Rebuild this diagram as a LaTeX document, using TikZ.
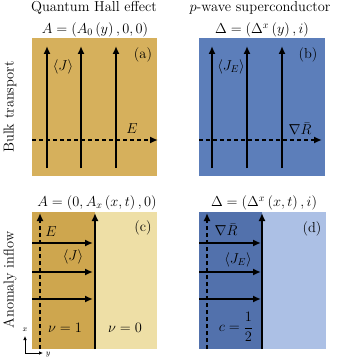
\documentclass[tikz,border=0pt]{standalone}
\usepackage{amsmath}
\usetikzlibrary{arrows.meta}
\definecolor{goldA}{RGB}{214,176,92}
\definecolor{goldD}{RGB}{206,166,78}
\definecolor{goldL}{RGB}{238,223,166}
\definecolor{blueB}{RGB}{92,126,186}
\definecolor{blueD}{RGB}{82,113,172}
\definecolor{blueL}{RGB}{172,192,229}
\tikzset{
  flow/.style={line width=1.6pt,-{Latex[length=8pt,width=7pt]}},
  field/.style={flow,dash pattern=on 4pt off 3pt},
  lbl/.style={inner sep=0pt,font=\Large},
  axisarrow/.style={line width=0.7pt,-{Latex[length=4pt,width=3.5pt]}}
}
\begin{document}
\begin{tikzpicture}[x=1pt,y=-1pt]
\useasboundingbox (0,0) rectangle (337,361);
% panels
\fill[goldA] (32,38) rectangle (157,176);
\fill[blueB] (199,38) rectangle (325,176);
\fill[goldD] (32,212) rectangle (95,349);
\fill[goldL] (95,212) rectangle (157,349);
\fill[blueD] (199,212) rectangle (262,349);
\fill[blueL] (262,212) rectangle (326,349);
% titles
\node[lbl] (t1) at (94,8) {Quantum Hall effect};
\node[lbl] (t2) at (260,8) {$p$-wave superconductor};
\node[lbl] (e1) at (95,30) {$A=\left(A_0\left(y\right),0,0\right)$};
\node[lbl] (e2) at (262,30) {$\Delta=\left(\Delta^x\left(y\right),i\right)$};
\node[lbl] (e3) at (97,203) {$A=\left(0,A_x\left(x,t\right),0\right)$};
\node[lbl] (e4) at (264,203) {$\Delta=\left(\Delta^x\left(x,t\right),i\right)$};
\node[lbl,rotate=90] (s1) at (10,107) {Bulk transport};
\node[lbl,rotate=90] (s2) at (10,280) {Anomaly inflow};
% panel (a)
\foreach \x [count=\i] in {47,81,116}{
  \coordinate (a\i b) at (\x,168);
  \coordinate (a\i t) at (\x,46);
  \draw[flow] (a\i b) -- (a\i t);
}
\coordinate (aEl) at (32,140); \coordinate (aEr) at (158,140);
\draw[field] (aEl) -- (aEr);
\node[lbl] (aJ) at (63,67) {$\langle J\rangle$};
\node[lbl] (alab) at (143,55) {(a)};
\node[lbl] (aE) at (132,129) {$E$};
% panel (b)
\foreach \x [count=\i] in {212,247,282}{
  \coordinate (b\i b) at (\x,168);
  \coordinate (b\i t) at (\x,46);
  \draw[flow] (b\i b) -- (b\i t);
}
\coordinate (bEl) at (199,140); \coordinate (bEr) at (322,140);
\draw[field] (bEl) -- (bEr);
\node[lbl] (bJ) at (231,67) {$\langle J_E\rangle$};
\node[lbl] (blab) at (308,55) {(b)};
\node[lbl] (bR) at (300,129) {$\nabla\bar{R}$};
% panel (c)
\coordinate (cVb) at (95,349); \coordinate (cVt) at (95,213);
\draw[flow] (cVb) -- (cVt);
\coordinate (cDb) at (40,349); \coordinate (cDt) at (40,213);
\draw[field] (cDb) -- (cDt);
\foreach \y [count=\i] in {243,272,299}{
  \coordinate (c\i l) at (32,\y);
  \coordinate (c\i r) at (93,\y);
  \draw[flow] (c\i l) -- (c\i r);
}
\node[lbl] (cE) at (51,232) {$E$};
\node[lbl] (cJ) at (73,257) {$\langle J\rangle$};
\node[lbl] (clab) at (143,228) {(c)};
\node[lbl] (cn1) at (65,328) {$\nu=1$};
\node[lbl] (cn0) at (125,328) {$\nu=0$};
% panel (d)
\coordinate (dVb) at (262,349); \coordinate (dVt) at (262,213);
\draw[flow] (dVb) -- (dVt);
\coordinate (dDb) at (207,349); \coordinate (dDt) at (207,213);
\draw[field] (dDb) -- (dDt);
\foreach \y [count=\i] in {243,272,299}{
  \coordinate (d\i l) at (199,\y);
  \coordinate (d\i r) at (261,\y);
  \draw[flow] (d\i l) -- (d\i r);
}
\node[lbl] (dR) at (226,230) {$\nabla\bar{R}$};
\node[lbl] (dJ) at (238,260) {$\langle J_E\rangle$};
\node[lbl] (dlab) at (312,229) {(d)};
\node[lbl] (dc) at (236,327) {$c=\dfrac{1}{2}$};
% axes
\coordinate (o) at (25,353);
\coordinate (ox) at (25,336);
\coordinate (oy) at (43,353);
\draw[axisarrow] (o) -- (ox);
\draw[axisarrow] (o) -- (oy);
\node[inner sep=0pt,font=\footnotesize] (xl) at (25,330) {$x$};
\node[inner sep=0pt,font=\footnotesize] (yl) at (48,355) {$y$};
\end{tikzpicture}
\end{document}
